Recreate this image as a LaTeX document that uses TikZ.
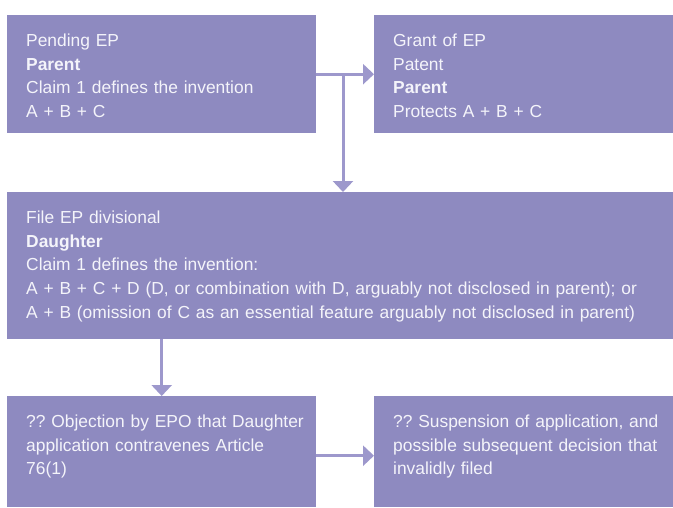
\documentclass[tikz,border=0pt]{standalone}
\usepackage{fontspec}
\setmainfont{Liberation Sans}
\usetikzlibrary{arrows.meta}
\definecolor{boxfill}{HTML}{8E8AC0}
\definecolor{arrowc}{HTML}{9D98CC}
\definecolor{txtc}{HTML}{F4F4FA}
\frenchspacing
\begin{document}
\begin{tikzpicture}[x=1pt,y=-1pt,
  box/.style={fill=boxfill, draw=none, anchor=north west, inner sep=0pt},
  txtnode/.style={anchor=north west, inner sep=0pt, text=txtc, align=left,
    font=\fontsize{17.4pt}{23.8pt}\selectfont\frenchspacing},
  conn/.style={draw=arrowc, line width=3pt},
  arr/.style={conn, -{Triangle[width=20pt,length=11pt]}}]
\useasboundingbox (0,0) rectangle (673,507);
\node[box, minimum width=309pt, minimum height=118pt] (b1) at (7,15) {};
\node[box, minimum width=299pt, minimum height=118pt] (b2) at (374,15) {};
\node[box, minimum width=666pt, minimum height=147pt] (b3) at (7,192) {};
\node[box, minimum width=309pt, minimum height=111pt] (b4) at (7,396) {};
\node[box, minimum width=299pt, minimum height=111pt] (b5) at (374,396) {};
\node[txtnode, text width=290pt] (t1) at ([xshift=19pt,yshift=-15pt]b1.north west)
  {\rule{0pt}{16pt}Pending EP\\ \textbf{Parent}\\ Claim 1 defines the invention\\ A + B + C};
\node[txtnode, text width=280pt] (t2) at ([xshift=19pt,yshift=-15pt]b2.north west)
  {\rule{0pt}{16pt}Grant of EP\\ Patent\\ \textbf{Parent}\\ Protects A + B + C};
\node[txtnode, text width=645pt] (t3) at ([xshift=19pt,yshift=-15pt]b3.north west)
  {\rule{0pt}{16pt}File EP divisional\\ \textbf{Daughter}\\ Claim 1 defines the invention:\\
   A + B + C + D (D, or combination with D, arguably not disclosed in parent); or\\
   A + B (omission of C as an essential feature arguably not disclosed in parent)};
\node[txtnode, text width=290pt] (t4) at ([xshift=19pt,yshift=-15pt]b4.north west)
  {\rule{0pt}{16pt}?? Objection by EPO that Daughter\\ application contravenes Article\\ 76(1)};
\node[txtnode, text width=280pt] (t5) at ([xshift=19pt,yshift=-15pt]b5.north west)
  {\rule{0pt}{16pt}?? Suspension of application, and\\ possible subsequent decision that\\ invalidly filed};
\coordinate (j) at (343,74);
\draw[arr] (b1.east) -- (b2.west);
\draw[arr] (j) -- (j |- b3.north);
\draw[arr] (b4.north |- b3.south) -- (b4.north);
\draw[arr] ([yshift=-4pt]b4.east) -- ([yshift=-4pt]b5.west);
\end{tikzpicture}
\end{document}
